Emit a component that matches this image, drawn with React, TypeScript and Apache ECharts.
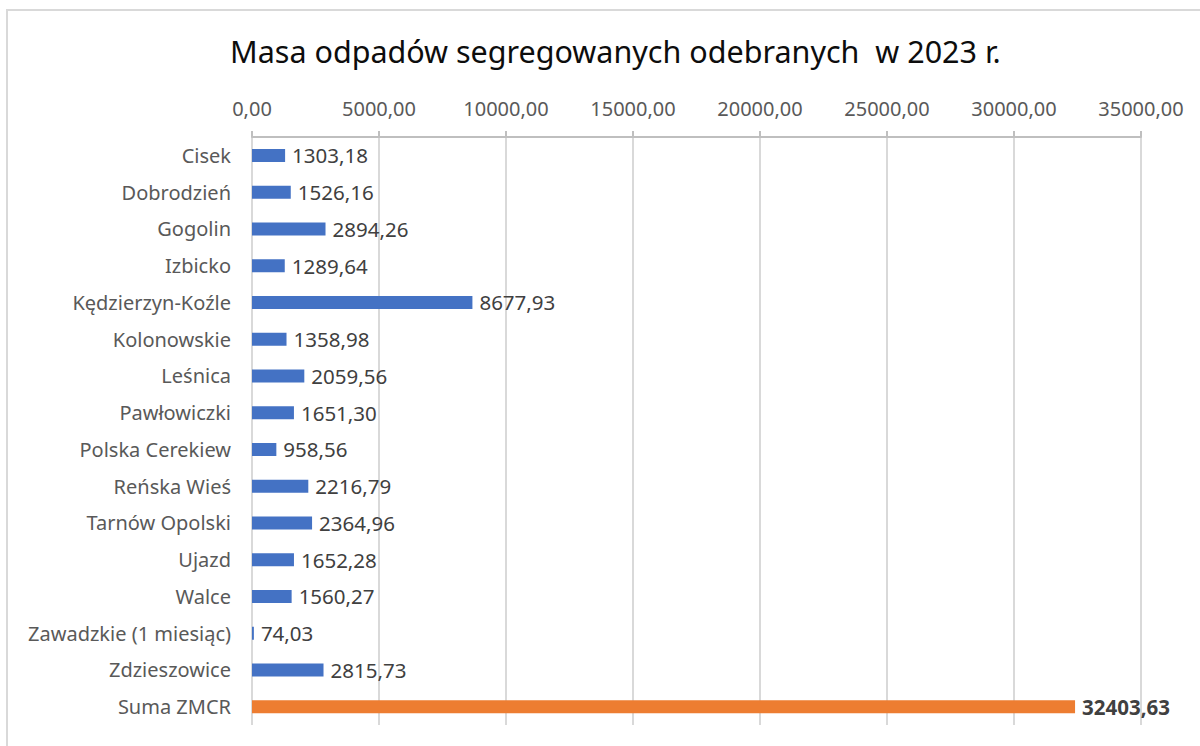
import React, { useEffect, useRef } from "react";
import * as echarts from "echarts";

const categories = [
  "Cisek",
  "Dobrodzień",
  "Gogolin",
  "Izbicko",
  "Kędzierzyn-Koźle",
  "Kolonowskie",
  "Leśnica",
  "Pawłowiczki",
  "Polska Cerekiew",
  "Reńska Wieś",
  "Tarnów Opolski",
  "Ujazd",
  "Walce",
  "Zawadzkie (1 miesiąc)",
  "Zdzieszowice",
  "Suma ZMCR",
];

const values = [
  1303.18, 1526.16, 2894.26, 1289.64, 8677.93, 1358.98, 2059.56, 1651.3,
  958.56, 2216.79, 2364.96, 1652.28, 1560.27, 74.03, 2815.73, 32403.63,
];

const totalCategory = "Suma ZMCR";
const title = "Masa odpadów segregowanych odebranych  w 2023 r.";
const axisMax = 35000;
const axisStep = 5000;

const FONT = "Noto Sans";
const fmt = (v: number) => v.toFixed(2).replace(".", ",");

export default function App() {
  const ref = useRef<HTMLDivElement>(null);
  useEffect(() => {
    if (!ref.current) return;
    const chart = echarts.init(ref.current, undefined, { renderer: "svg" });
    chart.setOption({
      animation: false,
      backgroundColor: "#ffffff",
      title: {
        text: title,
        left: 225,
        top: 30,
        textStyle: {
          fontFamily: FONT,
          fontSize: 30.5,
          fontWeight: "normal",
          color: "#0d0d0d",
        },
      },
      graphic: [
        {
          type: "rect",
          shape: { x: 7, y: 10, width: 1300, height: 900 },
          style: { fill: "none", stroke: "#d9d9d9", lineWidth: 2 },
          silent: true,
        },
      ],
      grid: { left: 252, right: 59, top: 137, bottom: 21, containLabel: false },
      xAxis: {
        type: "value",
        position: "top",
        min: 0,
        max: axisMax,
        interval: axisStep,
        axisLine: { show: true, lineStyle: { color: "#bfbfbf", width: 2 } },
        axisTick: { show: true, length: 6, lineStyle: { color: "#bfbfbf", width: 2 } },
        splitLine: { show: true, lineStyle: { color: "#d9d9d9", width: 2 } },
        axisLabel: {
          formatter: (v: number) => fmt(v),
          fontFamily: FONT,
          fontSize: 20,
          color: "#595959",
          margin: 19,
        },
      },
      yAxis: {
        type: "category",
        data: categories,
        inverse: true,
        axisLine: { show: false },
        axisTick: { show: false },
        axisLabel: {
          fontFamily: FONT,
          fontSize: 20,
          color: "#595959",
          margin: 21,
        },
      },
      series: [
        {
          type: "bar",
          barWidth: 13,
          data: categories.map((c, i) => {
            const isTotal = c === totalCategory;
            return {
              value: values[i],
              itemStyle: { color: isTotal ? "#ED7D31" : "#4472C4" },
              label: {
                show: true,
                position: "right",
                distance: 7,
                formatter: (p: any) => fmt(p.value),
                fontFamily: FONT,
                fontSize: 20.5,
                color: "#404040",
                fontWeight: isTotal ? "bold" : "normal",
              },
            };
          }),
        },
      ],
    });
    return () => chart.dispose();
  }, []);
  return (
    <div
      ref={ref}
      style={{ position: "absolute", left: 0, top: 0, width: 1200, height: 746 }}
    />
  );
}
